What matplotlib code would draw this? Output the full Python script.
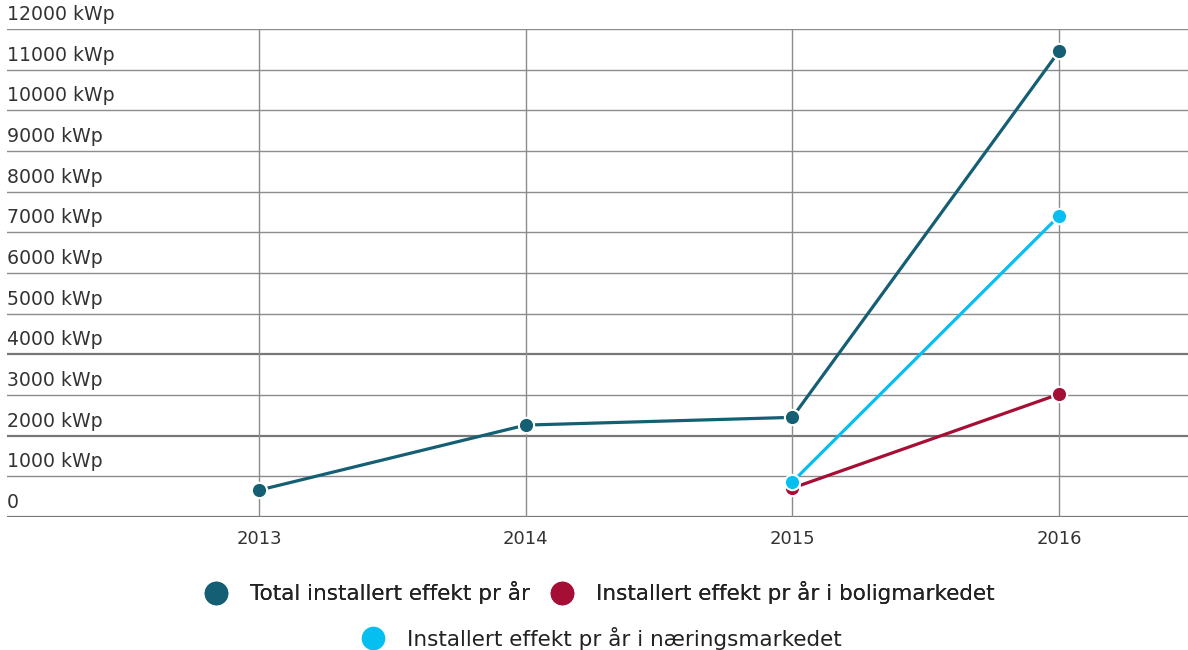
import matplotlib.pyplot as plt
import matplotlib.transforms as mtransforms
from matplotlib.lines import Line2D

plt.rcParams['font.family'] = ['DejaVu Sans']

# data
years = [2013, 2014, 2015, 2016]
total = [660, 2260, 2450, 11450]
bolig_years = [2015, 2016]
bolig = [710, 3020]
naering_years = [2015, 2016]
naering = [860, 7400]
yticks = list(range(0, 13000, 1000))
ylabels = ['0'] + ['%d kWp' % v for v in yticks[1:]]

c_total = '#145f73'
c_bolig = '#a60f35'
c_naering = '#05bff0'
grid_c = '#8c8c8c'
text_c = '#333333'

fig = plt.figure(figsize=(11.88, 6.5), dpi=100)
ax = fig.add_axes([7/1188, 1 - 517/650, 1 - 7/1188, (517 - 29)/650])

ax.set_ylim(0, 12000)
ax.set_xlim(2013 - 0.945, 2016 + 0.484)

for v in yticks:
    lw = 1.6 if v in (0, 2000, 4000) else 1.0
    col = '#777777' if v in (0, 2000, 4000) else grid_c
    ax.axhline(v, color=col, lw=lw, zorder=0)
for x in years:
    ax.axvline(x, color=grid_c, lw=1.0, zorder=0)

mk = dict(marker='o', markersize=11, markeredgecolor='white', markeredgewidth=1.5,
          lw=2.3, solid_capstyle='butt')
ax.plot(bolig_years, bolig, color=c_bolig, zorder=3, **mk)
ax.plot(naering_years, naering, color=c_naering, zorder=4, **mk)
ax.plot(years, total, color=c_total, zorder=5, **mk)

for s in ax.spines.values():
    s.set_visible(False)

ax.set_xticks(years)
ax.set_xticklabels([str(y) for y in years])
ax.tick_params(axis='x', length=0, pad=9, labelsize=13, labelcolor=text_c)
ax.set_yticks([])

trans = mtransforms.blended_transform_factory(ax.transAxes, ax.transData)
for v, lab in zip(yticks, ylabels):
    ax.annotate(lab, xy=(0, v), xycoords=trans, xytext=(0, 3.5), textcoords='offset points',
                ha='left', va='bottom', fontsize=13.6, color=text_c, annotation_clip=False)


def handle(c):
    return Line2D([], [], marker='o', linestyle='none', markersize=16,
                  markerfacecolor=c, markeredgecolor=c)


leg1 = fig.legend([handle(c_total), handle(c_bolig)],
                  ['Total installert effekt pr år', 'Installert effekt pr år i boligmarkedet'],
                  loc='center', bbox_to_anchor=(600/1188, 1 - 593/650), ncol=2, frameon=False,
                  fontsize=15.5, handlelength=1.0, handletextpad=1.08, columnspacing=1.0,
                  labelcolor='#222222')
leg2 = fig.legend([handle(c_naering)], ['Installert effekt pr år i næringsmarkedet'],
                  loc='center', bbox_to_anchor=(602/1188, 1 - 638/650), frameon=False,
                  fontsize=15.5, handlelength=1.0, handletextpad=1.08, labelcolor='#222222')
fig.add_artist(leg1)

fig.savefig('out.png', dpi=100)
